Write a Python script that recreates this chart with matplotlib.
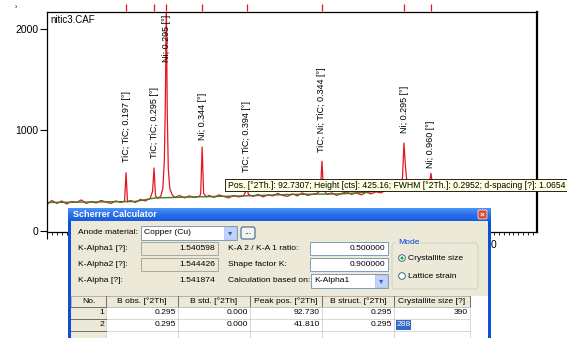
import numpy as np
import matplotlib
matplotlib.use('Agg')
import matplotlib.pyplot as plt
from matplotlib.patches import Rectangle, FancyBboxPatch, Circle

plt.rcParams['font.family'] = ['Liberation Sans', 'DejaVu Sans']

two_theta = [20, 21, 22, 23, 24, 25, 26, 27, 28, 29, 30, 31, 32, 33, 34, 35, 35.8, 36.1, 36.4,
             37, 38, 39, 40, 41, 41.5, 41.8, 42.1, 42.6, 43.2, 43.6, 43.9, 44.1, 44.3, 44.5, 44.7,
             45.0, 45.5, 46, 47, 48, 49, 50, 51, 51.3, 51.6, 51.9, 52.5, 53, 54, 55, 56, 57, 58,
             59, 60, 60.4, 60.7, 61.0, 62, 63, 64, 65, 66, 67, 68, 69, 70, 71, 72, 73, 74, 75,
             75.7, 76.0, 76.3, 77, 78, 79, 80, 81, 82, 83, 84, 85, 86, 87, 88, 89, 90, 91, 92,
             92.4, 92.7, 93.0, 93.3, 94, 95, 96, 97, 97.9, 98.2, 98.5, 99, 100, 102, 104, 106,
             108, 110, 112, 114, 116, 118, 119.8]
counts = [260, 300, 270, 295, 265, 290, 280, 305, 270, 290, 275, 300, 285, 270, 295, 280, 290, 575, 285,
          300, 280, 310, 295, 320, 390, 622, 345, 320, 345, 420, 700, 1250, 2250, 1150, 620,
          420, 355, 330, 350, 325, 345, 330, 340, 360, 830, 370, 335, 350, 330, 355, 340, 325, 350,
          335, 345, 380, 470, 360, 340, 360, 335, 355, 345, 370, 350, 340, 365, 345, 375, 350, 360, 370,
          400, 690, 410, 360, 375, 350, 370, 385, 360, 375, 355, 380, 365, 385, 375, 400, 420, 430, 450,
          520, 870, 640, 480, 440, 445, 430, 450, 470, 570, 460, 440, 450, 445, 455, 440,
          450, 445, 450, 440, 450, 445, 440]

# fitted background
bg_theta = [20, 30, 38, 42, 50, 60, 70, 80, 86, 90, 100, 110, 119.8]
bg_counts = [280, 285, 290, 325, 335, 345, 360, 365, 385, 425, 435, 440, 440]

# peak labels and reference marks
peak_pos = [36.1, 41.8, 44.3, 51.6, 60.7, 76.0, 92.73, 98.2]
peak_text = ['TiC; TiC; 0.197 [°]', 'TiC; TiC; 0.295 [°]', 'Ni; 0.295 [°]', 'Ni; 0.344 [°]',
             'TiC; TiC; 0.394 [°]', 'TiC; Ni; TiC; 0.344 [°]', 'Ni; 0.295 [°]', 'Ni; 0.960 [°]']
label_base = [681, 721, 1673, 899, 582, 780, 969, 622]

# x tick labels: only the one peeking out beside the dialog is visible
x_ticks = [20, 30, 40, 50, 60, 70, 80, 90, 100, 110]
x_ticklabels = ['', '', '', '', '', '', '', '', '', '110']

# Scherrer calculator table
col_head = ['No.', 'B obs. [°2Th]', 'B std. [°2Th]', 'Peak pos. [°2Th]', 'B struct. [°2Th]',
            'Crystallite size [?]']
row_no = ['1', '2']
b_obs = ['0.295', '0.295']
b_std = ['0.000', '0.000']
p_pos = ['92.730', '41.810']
b_struct = ['0.295', '0.295']
cryst = ['390', '288']

W, H = 567, 338
fig = plt.figure(figsize=(W / 100, H / 100), dpi=100)
ax = fig.add_axes([47 / W, (H - 232) / H, 490 / W, 220 / H])

ax.plot(two_theta, counts, color='#e8141e', lw=0.9)
ax.plot(bg_theta, bg_counts, color='#3c7d22', lw=1.0)
ax.set_xlim(20, 119.8)
ax.set_ylim(-13, 2169)
ax.vlines(peak_pos, 2175, 2250, color='#e8141e', lw=0.9, clip_on=False)
for p, t, b in zip(peak_pos, peak_text, label_base):
    ax.text(p, b, t, rotation=90, ha='center', va='bottom', fontsize=6.5)
ax.text(0.006, 0.985, 'nitic3.CAF', transform=ax.transAxes, fontsize=7, va='top')

ax.set_yticks([0, 1000, 2000])
ax.set_xticks(x_ticks)
ax.set_xticklabels(x_ticklabels)
ax.set_xticks(np.arange(20, 120, 1), minor=True)
ax.tick_params(axis='both', labelsize=7.5, length=5, width=0.8, direction='out', pad=1)
ax.tick_params(axis='x', which='minor', length=2, width=0.6)
for s in ax.spines.values():
    s.set_linewidth(0.9)
ax.spines['right'].set_linewidth(1.6)
fig.text(15 / W, 1 - 8 / H, '›', fontsize=5, va='center')

# overlay in pixel coordinates for the tooltip and dialog
ov = fig.add_axes([0, 0, 1, 1], zorder=5)
ov.axis('off')
ov.patch.set_alpha(0)

# tooltip
ov.add_patch(Rectangle((225, 179), 350, 12, fc='#ffffe1', ec='black', lw=0.6))
ov.text(228, 185.5, 'Pos. [°2Th.]: 92.7307; Height [cts]: 425.16; FWHM [°2Th.]: 0.2952; '
        'd-spacing [?]: 1.0654', fontsize=6.2, va='center')

# dialog frame
ov.add_patch(Rectangle((68, 208), 423, 140, fc='#0a50d8', ec='none'))
grad = np.linspace(0, 1, 20).reshape(-1, 1)
ov.imshow(grad, extent=(68, 491, 221, 208), cmap=matplotlib.colors.LinearSegmentedColormap.from_list(
    'tb', ['#4a95f5', '#2a6ee8', '#1a5cdc']), aspect='auto', zorder=2)
ov.add_patch(Rectangle((71, 221), 417, 130, fc='#ece9d8', ec='none', zorder=3))
ov.text(73, 214.5, 'Scherrer Calculator', color='white', fontsize=6.5, fontweight='bold',
        va='center', zorder=4)
ov.add_patch(FancyBboxPatch((478, 210), 9, 9, boxstyle='round,pad=0,rounding_size=1.5',
                            fc='#e0482c', ec='white', lw=0.5, zorder=4))
ov.text(482.5, 214.7, '×', color='white', fontsize=6, ha='center', va='center',
        fontweight='bold', zorder=5)


def label(x, y, s, **kw):
    ov.text(x, y, s, fontsize=6.1, va='center', zorder=6, **kw)


def box(x0, x1, y0, y1, fc='white', ec='#7f9db9'):
    ov.add_patch(Rectangle((x0, y0), x1 - x0, y1 - y0, fc=fc, ec=ec, lw=0.7, zorder=5))


def combo(x0, x1, y0, y1, s):
    box(x0, x1, y0, y1)
    ov.add_patch(Rectangle((x1 - 13, y0 + 1), 12, y1 - y0 - 2, fc='#c1d3fb', ec='#a5bce8',
                           lw=0.5, zorder=6))
    ov.text(x1 - 7, (y0 + y1) / 2 + 0.5, '▾', fontsize=6, color='#3a5ab0', ha='center',
            va='center', zorder=7)
    label(x0 + 3, (y0 + y1) / 2, s)


label(78, 233, 'Anode material:')
combo(141, 237, 226, 240, 'Copper (Cu)')
ov.add_patch(FancyBboxPatch((241, 227), 14, 12, boxstyle='round,pad=0,rounding_size=2',
                            fc='#f4f4f0', ec='#003c74', lw=0.6, zorder=5))
label(248, 232, '...', ha='center')

label(78, 248.5, 'K-Alpha1 [?]:')
box(141, 218, 242, 255, fc='#ece9d8', ec='#aca899')
label(215, 248.5, '1.540598', ha='right')
label(78, 264.5, 'K-Alpha2 [?]:')
box(141, 218, 258, 271, fc='#ece9d8', ec='#aca899')
label(215, 264.5, '1.544426', ha='right')
label(78, 281, 'K-Alpha [?]:')
label(215, 281, '1.541874', ha='right')

label(228, 248.5, 'K-A 2 / K-A 1 ratio:')
box(310, 388, 242, 255)
label(385, 248.5, '0.500000', ha='right')
label(228, 264.5, 'Shape factor K:')
box(310, 388, 258, 271)
label(385, 264.5, '0.900000', ha='right')
label(228, 281, 'Calculation based on:')
combo(311, 388, 274, 288, 'K-Alpha1')

ov.add_patch(FancyBboxPatch((392, 243), 86, 46, boxstyle='round,pad=0,rounding_size=3',
                            fc='none', ec='#d0d0bf', lw=0.7, zorder=5))
ov.add_patch(Rectangle((396, 240), 20, 6, fc='#ece9d8', ec='none', zorder=5))
label(398, 243, 'Mode', color='#0046d5')
for yy, s, sel in [(258, 'Crystallite size', True), (276, 'Lattice strain', False)]:
    ov.add_patch(Circle((402, yy), 3.3, fc='white', ec='#1c5180', lw=0.6, zorder=6))
    if sel:
        ov.add_patch(Circle((402, yy), 1.5, fc='#21a121', ec='none', zorder=7))
    label(408, yy, s)

# table
col_edges = [71, 106, 178, 250, 322, 394, 470]
ov.add_patch(Rectangle((71, 296), 417, 50, fc='white', ec='none', zorder=4))
ov.add_patch(Rectangle((71, 296), 399, 11, fc='#ece9d8', ec='#aca899', lw=0.6, zorder=5))
ov.add_patch(Rectangle((71, 307), 35, 40, fc='#ece9d8', ec='none', zorder=5))
for i, h in enumerate(col_head):
    label((col_edges[i] + col_edges[i + 1]) / 2, 301.5, h, ha='center')
for xe in col_edges[1:]:
    ov.plot([xe, xe], [296, 307], color='#716f64', lw=0.7, zorder=6)
    ov.plot([xe, xe], [307, 338], color='#c8c8c8', lw=0.5, zorder=6)
for yy in [307, 319, 331]:
    ov.plot([71, 470], [yy, yy], color='#c8c8c8', lw=0.5, zorder=6)
    ov.plot([71, 106], [yy, yy], color='#716f64', lw=0.7, zorder=6)
cols = [row_no, b_obs, b_std, p_pos, b_struct, cryst]
for r in range(len(row_no)):
    yy = 313 + 12 * r
    for c, vals in enumerate(cols):
        if c == 5 and r == 1:
            ov.add_patch(Rectangle((396, yy - 5), 15, 10, fc='#316ac5', ec='none', zorder=6))
            label(397, yy, vals[r], color='white')
        else:
            label(col_edges[c + 1] - 2, yy, vals[r], ha='right')

ov.add_patch(Rectangle((488, 221), 3, 130, fc='#0a50d8', ec='none', zorder=7))
ov.set_xlim(0, W)
ov.set_ylim(H, 0)

fig.savefig('out.png', dpi=100)
